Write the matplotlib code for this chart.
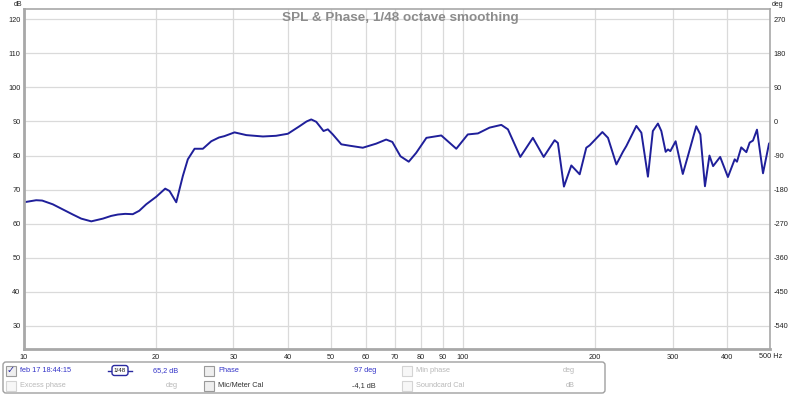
import matplotlib.pyplot as plt
from matplotlib.patches import Rectangle, FancyBboxPatch
from matplotlib.lines import Line2D

plt.rcParams['font.family'] = ['Liberation Sans', 'DejaVu Sans']
plt.rcParams['axes.unicode_minus'] = False

# SPL curve (Hz, dB)
freq_hz = [10.0, 10.66, 11.0, 11.63, 12.92, 13.5, 14.23, 15.12, 15.8, 16.36,
           17.0, 17.69, 18.3, 18.98, 20.0, 20.97, 21.45, 22.22, 23.0, 23.61,
           24.46, 25.55, 26.7, 27.8, 28.6, 30.16, 32.1, 35.0, 37.5, 39.9,
           42.4, 44.0, 45.1, 46.3, 48.1, 49.2, 50.5, 52.8, 55.1, 59.1,
           63.4, 66.8, 69.0, 72.0, 75.2, 78.2, 82.5, 89.2, 96.5, 102.5,
           108.1, 114.9, 122.2, 126.5, 135.0, 144.2, 152.6, 161.6, 164.4, 169.7,
           176.4, 184.3, 190.8, 194.2, 207.6, 213.8, 223.4, 231.2, 235.4, 248.1,
           254.7, 263.6, 270.5, 277.8, 282.8, 289.3, 292.8, 296.5, 304.8, 316.5,
           325.0, 339.6, 347.0, 355.5, 364.0, 371.0, 385.0, 401.0, 415.5, 420.5,
           430.0, 441.7, 449.4, 457.3, 467.0, 482.0, 497.4, 500.0]
spl_db = [66.3, 66.9, 66.8, 65.7, 62.7, 61.5, 60.7, 61.5, 62.3, 62.7,
          62.9, 62.8, 63.8, 65.7, 67.9, 70.3, 69.6, 66.3, 74.0, 78.9,
          82.0, 82.0, 84.2, 85.3, 85.7, 86.8, 86.0, 85.6, 85.8, 86.4,
          88.6, 90.0, 90.6, 89.9, 87.2, 87.7, 86.2, 83.3, 82.9, 82.3,
          83.5, 84.7, 84.0, 79.8, 78.2, 80.8, 85.2, 85.9, 82.0, 86.2,
          86.5, 88.2, 89.0, 87.7, 79.6, 85.2, 79.6, 84.5, 83.7, 70.9,
          77.1, 74.5, 82.3, 83.0, 86.9, 85.2, 77.4, 81.1, 82.8, 88.7,
          86.7, 73.8, 87.2, 89.4, 87.2, 81.1, 81.8, 81.3, 84.2, 74.6,
          79.8, 88.6, 86.2, 71.0, 80.0, 76.9, 79.6, 73.7, 78.9, 78.2,
          82.4, 81.0, 83.8, 84.4, 87.6, 74.8, 83.5, 83.8]

x_ticks = [10, 20, 30, 40, 50, 60, 70, 80, 90, 100, 200, 300, 400, 500]
db_ticks = [30, 40, 50, 60, 70, 80, 90, 100, 110, 120]
deg_ticks = [270, 180, 90, 0, -90, -180, -270, -360, -450, -540]

W, H = 800, 395
fig = plt.figure(figsize=(W / 100, H / 100), dpi=100)
fig.patch.set_facecolor('white')

# main plot area in pixel terms: x 24..770, y 9..349
ax = fig.add_axes([24 / W, 1 - 349 / H, (770 - 24) / W, (349 - 9) / H])
ax.set_xscale('log')
ax.set_xlim(10, 500)
db_lo, db_hi = 23.25, 123.0
ax.set_ylim(db_lo, db_hi)

ax.plot(freq_hz, spl_db, color='#1f1f9a', linewidth=1.4,
        solid_joinstyle='round', solid_capstyle='round')

ax.set_xticks(x_ticks)
# last label is drawn by hand as "500 Hz"
ax.set_xticklabels([str(v) for v in x_ticks[:-1]] + [''])
ax.xaxis.set_minor_locator(plt.NullLocator())
ax.set_yticks(db_ticks)
ax.grid(True, color='#dadada', linewidth=0.9)
ax.tick_params(length=0, labelsize=5.3, labelcolor='#222222', pad=2.5)
ax.tick_params(axis='x', pad=3.5)
for name, sp in ax.spines.items():
    sp.set_color('#a8a8a8')
    sp.set_linewidth(2.0 if name in ('left', 'bottom') else 1.2)

# phase axis on the right: deg = (dB - 90) * 9
ax2 = ax.twinx()
ax2.set_ylim((db_lo - 90) * 9, (db_hi - 90) * 9)
ax2.set_yticks(deg_ticks)
ax2.tick_params(length=0, labelsize=5.3, labelcolor='#222222', pad=2.5)
for sp in ax2.spines.values():
    sp.set_visible(False)

# overlay in pixel coordinates for the REW decorations
ov = fig.add_axes([0, 0, 1, 1], zorder=5)
ov.set_xlim(0, W)
ov.set_ylim(H, 0)
ov.axis('off')
ov.patch.set_alpha(0)

ov.text(400, 21.5, 'SPL & Phase, 1/48 octave smoothing', ha='center', va='baseline',
        fontsize=9.7, fontweight='bold', color='#8c8c8c')
ov.text(18, 4, 'dB', ha='center', va='center', fontsize=5, color='#222222')
ov.text(778, 4, 'deg', ha='center', va='center', fontsize=5, color='#222222')
ov.text(759, 356, '500 Hz', ha='left', va='center', fontsize=5.3, color='#222222')

# legend / control panel
ov.add_patch(FancyBboxPatch((3, 362), 602, 31, boxstyle='round,pad=0,rounding_size=3',
                            facecolor='white', edgecolor='#a0a0a0', linewidth=1.0))

blue = '#3535c8'
dark = '#333333'
light = '#b8b8b8'


def checkbox(x, y, enabled=True, checked=False):
    ec = '#9a9a9a' if enabled else '#d4d4d4'
    fc = '#efefef' if enabled else '#f7f7f7'
    ov.add_patch(Rectangle((x, y - 5), 10, 10, facecolor=fc, edgecolor=ec, linewidth=0.8))
    if checked:
        ov.text(x + 5, y, '✓', ha='center', va='center', fontsize=7,
                color='#2a2aa0', family='DejaVu Sans')


row1, row2 = 370.5, 385.5
checkbox(6, row1, True, True)
ov.text(20, row1, 'feb 17 18:44:15', ha='left', va='center', fontsize=5.3, color=blue)
ov.add_line(Line2D([108, 132], [row1, row1], color='#2a2aa0', linewidth=1.0))
ov.add_patch(FancyBboxPatch((112, row1 - 5), 16, 10, boxstyle='round,pad=0,rounding_size=2.5',
                            facecolor='white', edgecolor='#2a2aa0', linewidth=1.0, zorder=3))
ov.text(120, row1, '1/48', ha='center', va='center', fontsize=4.5, color='#1a1a1a', zorder=4)
ov.text(178, row1, '65,2 dB', ha='right', va='center', fontsize=5.3, color=blue)
checkbox(204, row1)
ov.text(218, row1, 'Phase', ha='left', va='center', fontsize=5.3, color=blue)
ov.text(376, row1, '97 deg', ha='right', va='center', fontsize=5.3, color=blue)
checkbox(402, row1, False)
ov.text(416, row1, 'Min phase', ha='left', va='center', fontsize=5.3, color=light)
ov.text(575, row1, 'deg', ha='right', va='center', fontsize=5.3, color=light)

checkbox(6, row2, False)
ov.text(20, row2, 'Excess phase', ha='left', va='center', fontsize=5.3, color=light)
ov.text(178, row2, 'deg', ha='right', va='center', fontsize=5.3, color=light)
checkbox(204, row2)
ov.text(218, row2, 'Mic/Meter Cal', ha='left', va='center', fontsize=5.3, color=dark)
ov.text(376, row2, '-4,1 dB', ha='right', va='center', fontsize=5.3, color=dark)
checkbox(402, row2, False)
ov.text(416, row2, 'Soundcard Cal', ha='left', va='center', fontsize=5.3, color=light)
ov.text(575, row2, 'dB', ha='right', va='center', fontsize=5.3, color=light)

fig.savefig('out.png', dpi=100, facecolor='white')
